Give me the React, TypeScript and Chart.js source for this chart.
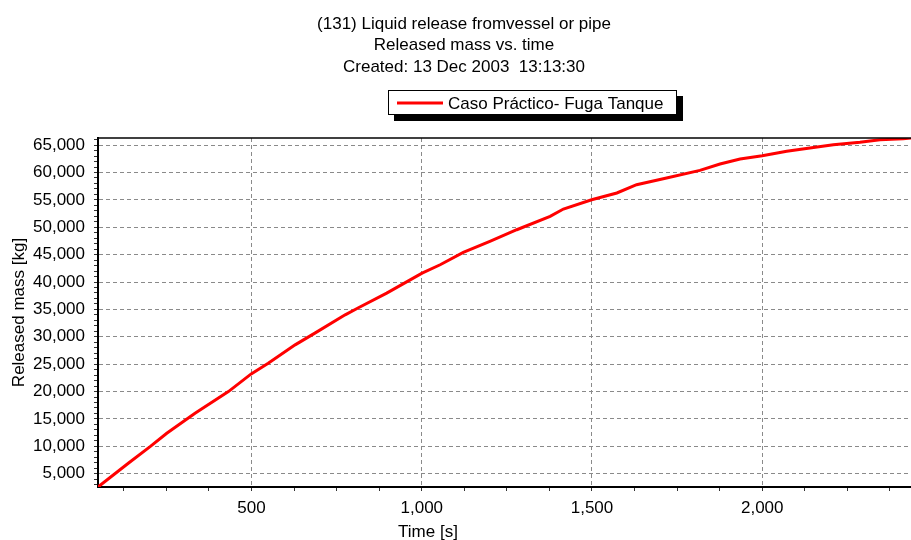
import React, { useEffect, useRef } from "react";
import { Chart, registerables } from "chart.js";

Chart.register(...registerables);

const FONT = '"Liberation Sans", Arial, Helvetica, sans-serif';

const titleLines = [
  "(131) Liquid release fromvessel or pipe",
  "Released mass vs. time",
  "Created: 13 Dec 2003  13:13:30",
];
const seriesLabel = "Caso Práctico- Fuga Tanque";
const xAxisTitle = "Time [s]";
const yAxisTitle = "Released mass [kg]";

const timeSeconds = [
  49, 138, 202, 251, 334, 432, 499, 549, 628, 686, 775, 814, 897, 975, 1001,
  1054, 1122, 1200, 1279, 1377, 1416, 1499, 1573, 1631, 1719, 1817, 1876, 1935,
  2000, 2072, 2140, 2209, 2287, 2346, 2414, 2437,
];
const releasedMassKg = [
  2570, 6901, 9936, 12385, 16041, 19990, 23225, 25181, 28526, 30665, 34010,
  35300, 37977, 40719, 41633, 43150, 45399, 47410, 49548, 51980, 53332, 55032,
  56257, 57774, 58999, 60388, 61550, 62472, 63076, 63862, 64483, 65087, 65507,
  65961, 66144, 66311,
];

const xMajorTicks = [500, 1000, 1500, 2000];
const yMajorTicks = [
  5000, 10000, 15000, 20000, 25000, 30000, 35000, 40000, 45000, 50000, 55000,
  60000, 65000,
];
const xMin = 49;
const xMax = 2437;
const yMin = 2570;
const yMax = 66300;
const xMinorStep = 125;
const yMinorStep = 1000;

function stepTicks(min: number, max: number, step: number): number[] {
  const out: number[] = [];
  for (let v = Math.ceil(min / step) * step; v <= max; v += step) out.push(v);
  return out;
}

const decorPlugin = {
  id: "decor",
  afterDraw(chart: any) {
    const ctx: CanvasRenderingContext2D = chart.ctx;
    const { left, right, top } = chart.chartArea;
    ctx.save();
    // top frame line
    ctx.strokeStyle = "#000";
    ctx.lineWidth = 1.5;
    ctx.beginPath();
    ctx.moveTo(left, top);
    ctx.lineTo(right, top);
    ctx.stroke();

    // title
    ctx.fillStyle = "#000";
    ctx.font = `17px ${FONT}`;
    ctx.textAlign = "center";
    ctx.textBaseline = "alphabetic";
    titleLines.forEach((t, i) => ctx.fillText(t, 464, 28.5 + i * 21.7));

    // legend box with shadow
    ctx.fillStyle = "#000";
    ctx.fillRect(394, 96, 289, 25);
    ctx.fillStyle = "#fff";
    ctx.fillRect(388, 90, 289, 25);
    ctx.strokeStyle = "#000";
    ctx.lineWidth = 1;
    ctx.strokeRect(388.5, 90.5, 288, 24);
    const ds = chart.data.datasets[0];
    ctx.strokeStyle = ds.borderColor;
    ctx.lineWidth = 3;
    ctx.beginPath();
    ctx.moveTo(397, 103);
    ctx.lineTo(443, 103);
    ctx.stroke();
    ctx.fillStyle = "#000";
    ctx.textAlign = "left";
    ctx.fillText(ds.label, 448, 108.5);

    // x axis title
    ctx.textAlign = "center";
    ctx.fillText(xAxisTitle, 428, 537);
    ctx.restore();
  },
};

export default function App() {
  const canvasRef = useRef<HTMLCanvasElement | null>(null);

  useEffect(() => {
    if (!canvasRef.current) return;
    const points = timeSeconds.map((t, i) => ({ x: t, y: releasedMassKg[i] }));
    const chart = new Chart(canvasRef.current, {
      type: "line",
      data: {
        datasets: [
          {
            label: seriesLabel,
            data: points,
            borderColor: "#ff0000",
            backgroundColor: "#ff0000",
            borderWidth: 3,
            pointRadius: 0,
            tension: 0,
            fill: false,
          },
        ],
      },
      options: {
        animation: false,
        responsive: false,
        devicePixelRatio: 1,
        layout: { padding: { top: 138, left: 0, right: 0, bottom: 0 } },
        plugins: {
          legend: { display: false },
          title: { display: false },
          tooltip: { enabled: false },
        },
        scales: {
          x: {
            type: "linear",
            min: xMin,
            max: xMax,
            afterBuildTicks: (s: any) => {
              s.ticks = stepTicks(xMin, xMax, xMinorStep).map((v) => ({ value: v }));
            },
            afterFit: (s: any) => {
              s.height = 53;
            },
            ticks: {
              autoSkip: false,
              maxRotation: 0,
              padding: 7,
              color: "#000",
              font: { family: FONT, size: 17 },
              callback: (v: any) =>
                xMajorTicks.includes(Number(v)) ? Number(v).toLocaleString("en-US") : "",
            },
            grid: {
              color: (c: any) =>
                c.tick && xMajorTicks.includes(c.tick.value) ? "#8a8a8a" : "rgba(0,0,0,0)",
              lineWidth: 1,
              tickLength: 4,
              tickColor: "#333",
              drawTicks: true,
            },
            border: { display: true, color: "#000", width: 2, dash: [4, 3] },
          },
          y: {
            type: "linear",
            min: yMin,
            max: yMax,
            afterBuildTicks: (s: any) => {
              s.ticks = stepTicks(yMin, yMax, yMinorStep).map((v) => ({ value: v }));
            },
            afterFit: (s: any) => {
              s.width = 98;
            },
            ticks: {
              autoSkip: false,
              padding: 9,
              color: "#000",
              font: { family: FONT, size: 17 },
              callback: (v: any) =>
                yMajorTicks.includes(Number(v)) ? Number(v).toLocaleString("en-US") : "",
            },
            grid: {
              color: (c: any) =>
                c.tick && yMajorTicks.includes(c.tick.value) ? "#8a8a8a" : "rgba(0,0,0,0)",
              lineWidth: 1,
              tickLength: 4,
              tickColor: "#333",
              drawTicks: true,
            },
            border: { display: true, color: "#000", width: 2, dash: [4, 3] },
            title: {
              display: true,
              text: yAxisTitle,
              color: "#000",
              font: { family: FONT, size: 17 },
              padding: { top: 9, bottom: 0 },
            },
          },
        },
      },
      plugins: [decorPlugin],
    });
    return () => chart.destroy();
  }, []);

  return (
    <div
      style={{
        position: "absolute",
        left: 0,
        top: 0,
        width: 911,
        height: 540,
        background: "#fff",
      }}
    >
      <canvas ref={canvasRef} width={911} height={540} style={{ display: "block" }} />
    </div>
  );
}
